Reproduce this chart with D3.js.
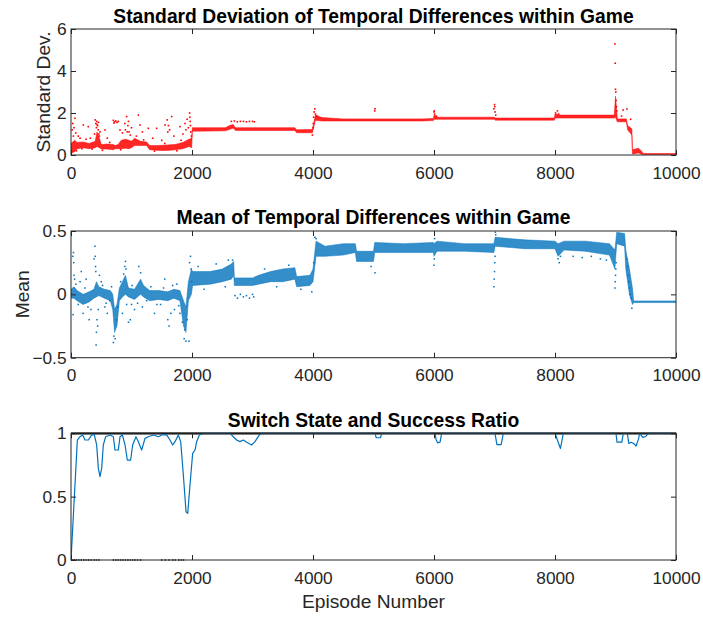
<!DOCTYPE html>
<html>
<head>
<meta charset="utf-8">
<script src="https://cdn.jsdelivr.net/npm/d3@7"></script>
<style>
  html, body { margin: 0; padding: 0; background: #fff; }
  svg { display: block; }
  text { font-family: "Liberation Sans", Arial, Helvetica, sans-serif; }
</style>
</head>
<body>
<svg id="chart" width="703" height="617"></svg>
<script>
// ---- tick values ----
const xTicks = [0, 2000, 4000, 6000, 8000, 10000];
const stdTicks = [0, 2, 4, 6];
const meanTicks = [-0.5, 0, 0.5];
const ratioTicks = [0, 0.5, 1];

// ---- std. dev. of temporal differences: dense band [episode, low, high] ----
const stdBand = [
  [0,0.10,0.55],[60,0.15,0.70],[100,0.30,0.60],[200,0.35,0.62],[300,0.30,0.55],
  [400,0.35,0.65],[430,0.40,1.10],[470,0.35,0.80],[500,0.28,0.50],[600,0.28,0.52],
  [700,0.25,0.50],[730,0.30,0.45],[780,0.30,0.50],[830,0.30,0.70],[900,0.32,0.75],
  [960,0.30,0.70],[1000,0.35,0.65],[1050,0.45,0.80],[1150,0.45,0.65],[1250,0.45,0.62],
  [1300,0.25,0.45],[1450,0.22,0.45],[1600,0.22,0.48],[1720,0.25,0.50],[1850,0.30,0.60],
  [1950,0.40,0.75],[1995,0.35,0.80],[2005,1.13,1.30],[2550,1.15,1.30],[2620,1.22,1.40],
  [2680,1.28,1.45],[2720,1.17,1.30],[3700,1.17,1.30],[3730,1.06,1.20],[3990,1.06,1.22],
  [4040,1.65,1.90],[4150,1.62,1.78],[4500,1.62,1.72],[5000,1.62,1.72],[5800,1.62,1.72],
  [5990,1.64,1.74],[6000,1.70,1.90],[6060,1.70,1.80],[7000,1.70,1.80],[7010,1.66,1.76],
  [7990,1.66,1.76],[8000,1.76,1.95],[8080,1.76,1.90],[8980,1.76,1.90],[9000,1.80,2.80],
  [9030,1.58,1.72],[9180,1.58,1.72],[9200,1.20,1.40],[9270,0.95,1.25],[9280,0.05,0.25],
  [9380,0.10,0.32],[9420,0.05,0.22],[9460,0.02,0.07],[10000,0.02,0.07]
];
// scattered std. dev. samples [episode, value]
const stdDots = [
  [20,1.2],[30,1.5],[40,0.9],[50,1.3],[66,1.75],[80,1.05],[120,0.9],[150,0.8],[204,1.43],
  [250,0.75],[286,1.35],[320,0.8],[390,1.0],[400,1.67],[410,1.5],[420,1.3],[425,1.6],
  [430,1.45],[440,1.4],[450,1.2],[455,1.55],[460,1.0],[470,0.9],[480,1.1],[562,1.19],
  [600,0.8],[700,1.65],[710,1.52],[720,1.58],[740,1.62],[760,1.55],[782,1.6],[810,1.19],
  [850,1.05],[890,1.5],[900,1.2],[920,1.83],[930,1.1],[940,1.4],[950,1.6],[960,1.1],
  [980,0.95],[1000,1.3],[1113,1.9],[1140,1.43],[1180,1.1],[1278,1.27],[1350,0.8],
  [1416,1.27],[1500,0.7],[1554,1.43],[1590,1.67],[1600,1.1],[1610,1.4],[1630,1.2],
  [1664,1.83],[1700,0.9],[1802,1.35],[1850,1.0],[1885,1.5],[1900,1.2],[1920,1.7],
  [1940,1.3],[1960,2.0],[1965,1.8],[1970,1.6],[1975,1.4],[1980,1.1],[1990,0.9],
  [10,0.15],[90,0.2],[180,0.3],[350,0.28],[520,0.22],[640,0.6],[820,0.25],[1080,0.9],
  [1200,0.72],[1380,0.18],[1550,0.55],[1750,0.2],[1820,0.7],
  [2650,1.6],[2700,1.62],[2750,1.58],[2800,1.6],[2850,1.6],[2900,1.58],[2950,1.6],
  [3000,1.6],[3030,1.58],
  [3990,0.95],[4000,1.3],[4005,1.5],[4010,1.8],[4020,2.05],[4030,2.2],[4040,1.95],
  [4060,1.85],[5020,2.1],[5025,2.2],[6000,2.05],[6005,2.1],[6010,1.95],[6040,1.85],
  [6990,2.2],[7000,2.4],[7005,2.3],[7010,2.05],[7020,1.9],[8010,2.0],[8040,2.1],[8060,1.95],
  [8990,5.29],[8995,4.37],[9000,3.13],[9005,3.0],[9010,2.6],[9015,2.3],[9020,2.1],
  [9100,1.85],[9125,2.14],[9190,2.19],[9250,1.7]
];

// ---- mean of temporal differences: dense band [episode, low, high] ----
const meanBand = [
  [0,-0.03,0.04],[50,-0.03,0.06],[100,-0.05,0.03],[200,-0.08,0.00],[300,-0.06,0.02],
  [380,-0.03,0.04],[420,-0.02,0.10],[460,-0.01,0.06],[550,-0.03,0.04],[650,-0.05,0.03],
  [690,-0.12,0.00],[720,-0.30,-0.12],[760,-0.25,-0.08],[800,-0.05,0.05],[850,-0.02,0.10],
  [900,0.00,0.15],[950,-0.02,0.05],[1050,-0.04,0.04],[1150,0.00,0.12],[1200,-0.02,0.07],
  [1300,-0.05,0.03],[1450,-0.04,0.03],[1600,-0.05,0.02],[1700,-0.03,0.04],[1800,-0.05,0.03],
  [1860,-0.25,-0.05],[1900,-0.30,-0.10],[1940,-0.05,0.10],[1990,0.00,0.20],[2010,0.07,0.18],
  [2300,0.08,0.18],[2500,0.10,0.20],[2650,0.12,0.24],[2690,0.15,0.26],[2700,0.07,0.13],
  [3000,0.07,0.13],[3100,0.08,0.15],[3300,0.10,0.18],[3500,0.10,0.20],[3700,0.12,0.21],
  [3730,0.06,0.14],[3950,0.07,0.15],[4000,0.10,0.20],[4050,0.30,0.42],[4200,0.30,0.38],
  [4500,0.31,0.40],[4700,0.33,0.40],[4720,0.26,0.34],[5000,0.26,0.34],[5020,0.33,0.41],
  [5500,0.33,0.40],[5990,0.33,0.41],[6000,0.30,0.40],[6050,0.34,0.42],[6500,0.34,0.40],
  [6990,0.33,0.40],[7010,0.38,0.45],[7500,0.36,0.43],[8000,0.36,0.42],[8050,0.30,0.40],
  [8150,0.35,0.42],[8500,0.34,0.42],[8900,0.31,0.40],[8990,0.20,0.35],[9020,0.40,0.49],
  [9150,0.38,0.48],[9170,0.20,0.35],[9230,0.00,0.20],[9280,-0.08,0.05],[9300,-0.065,-0.052],
  [10000,-0.065,-0.052]
];
// scattered mean samples [episode, value]
const meanDots = [
  [30,0.3],[40,0.33],[45,0.25],[50,0.15],[35,-0.16],[60,0.12],[150,0.1],[170,0.18],
  [200,-0.15],[250,0.12],[300,-0.2],[330,-0.12],[380,0.28],[395,0.38],[400,0.3],[405,0.22],
  [410,0.18],[415,-0.4],[420,-0.3],[430,-0.2],[440,-0.25],[450,-0.12],[470,0.15],[500,0.1],
  [560,-0.1],[600,-0.15],[640,-0.05],[700,-0.38],[710,-0.33],[730,-0.35],[750,-0.2],
  [780,-0.1],[820,0.1],[850,-0.15],[870,0.16],[890,0.22],[900,0.26],[910,0.2],[920,-0.08],
  [950,-0.22],[980,-0.2],[1000,-0.08],[1050,-0.12],[1120,0.22],[1150,0.17],[1180,-0.1],
  [1250,-0.05],[1380,-0.15],[1480,-0.08],[1550,0.12],[1600,-0.2],[1620,-0.25],[1650,-0.15],
  [1680,0.07],[1710,-0.12],[1800,-0.15],[1840,-0.22],[1870,-0.35],[1880,-0.28],[1900,-0.37],
  [1920,-0.2],[1950,-0.37],[1960,0.25],[1975,0.3],[1985,0.2],[1995,0.1],
  [80,0.08],[120,-0.08],[230,0.05],[280,-0.1],[520,0.07],[580,-0.07],[670,0.06],
  [1010,0.07],[1100,-0.07],[1320,0.06],[1420,-0.08],[1530,0.05],[1750,0.08],[1780,-0.09],
  [2100,0.22],[2200,0.04],[2400,0.24],[2550,0.06],[2600,0.27],[2670,0.27],
  [2710,-0.01],[2750,-0.03],[2800,0.0],[2850,-0.02],[2900,-0.01],[2950,-0.03],[3000,0.0],
  [3020,-0.02],[3200,0.2],[3400,0.06],[3600,0.23],[3800,0.04],
  [3980,0.02],[4010,0.25],[4030,0.45],[4050,0.44],[4960,0.22],[5025,0.17],
  [6000,0.23],[6005,0.28],[6010,0.44],[6990,0.06],[6995,0.12],[7000,0.18],[7005,0.25],
  [7010,0.3],[7015,0.49],[7020,0.47],[8050,0.28],[8070,0.25],[8090,0.3],[8300,0.3],
  [8450,0.29],[8600,0.3],[8750,0.28],[8850,0.27],[8990,0.05],[8995,0.1],[9000,0.15],
  [9005,0.2],[9010,0.25],[9190,0.28],[9200,0.22],[9210,0.15],[9220,0.1],[9230,0.05],
  [9240,0.0],[9260,-0.03],[9270,-0.11]
];

// ---- success ratio [episode, ratio] ----
const successRatio = [
  [0,0],[105,0.947],[149,0.973],[193,0.987],[231,0.947],[287,0.947],[342,0.987],[386,0.987],
  [424,0.908],[452,0.723],[479,0.658],[507,0.723],[534,0.908],[573,0.973],[645,0.987],
  [700,0.973],[727,0.868],[782,0.868],[810,0.973],[849,0.987],[893,0.908],[931,0.789],
  [986,0.789],[1019,0.908],[1074,0.973],[1113,0.934],[1168,0.868],[1223,0.960],[1278,0.973],
  [1361,0.987],[1444,0.973],[1499,0.987],[1581,0.987],[1636,0.947],[1680,0.908],[1719,0.934],
  [1774,0.987],[1813,0.934],[1857,0.671],[1901,0.381],[1929,0.368],[1967,0.592],[2011,0.842],
  [2050,0.868],[2077,0.934],[2122,0.987],[2188,1],[2628,1],[2683,0.973],[2738,0.947],
  [2793,0.934],[2848,0.947],[2903,0.929],[2986,0.908],[3041,0.934],[3113,0.987],[3152,1],
  [5025,1],[5045,0.965],[5115,0.965],[5135,1],[6017,1],[6035,0.95],[6060,0.925],[6100,0.93],
  [6127,1],[7008,1],[7040,0.91],[7110,0.91],[7146,1],[8000,1],[8090,0.88],[8137,1],
  [9008,1],[9025,0.93],[9105,0.93],[9129,1],[9195,1],[9220,0.92],[9260,0.93],[9300,0.92],
  [9340,0.9],[9377,0.95],[9400,1],[9450,0.968],[9500,0.975],[9543,1],[10000,1]
];
// switch state: episodes spent in the "off" state, and the span held "on"
const switchOff = [0,30,60,90,130,170,210,250,290,330,380,420,460,700,740,780,820,860,900,
  940,980,1020,1060,1100,1150,1500,1560,1620,1680,1720,1780,1820,1860];
const switchOn = [[0, 10000]];

// ---- layout ----
const svg = d3.select("#chart");
const AXC = "#262626";
const RED = "#ff0000";
const BLUE = "#0072bd";
const left = 71, right = 676;
const x = d3.scaleLinear().domain([0, 10000]).range([left, right]);

const panels = [
  { top: 29,    bottom: 155,   domain: [0, 6],      ticks: stdTicks,
    title: "Standard Deviation of Temporal Differences within Game", titleY: 22.7,
    ylabel: "Standard Dev.", ylabelX: 50 },
  { top: 231,   bottom: 357.7, domain: [-0.5, 0.5], ticks: meanTicks,
    title: "Mean of Temporal Differences within Game", titleY: 224,
    ylabel: "Mean", ylabelX: 28.5 },
  { top: 433.3, bottom: 560,   domain: [0, 1],      ticks: ratioTicks,
    title: "Switch State and Success Ratio", titleY: 427.3,
    ylabel: null }
];

panels.forEach((p, i) => {
  p.y = d3.scaleLinear().domain(p.domain).range([p.bottom, p.top]);
  p.g = svg.append("g");
  p.clipId = "clip" + i;
  svg.append("clipPath").attr("id", p.clipId)
    .append("rect").attr("x", left).attr("y", p.top - 1)
    .attr("width", right - left).attr("height", p.bottom - p.top + 2);
  p.data = p.g.append("g").attr("clip-path", `url(#${p.clipId})`);
});

function drawBand(p, band, color, opacity) {
  const area = d3.area()
    .x(d => x(d[0])).y0(d => p.y(d[1])).y1(d => p.y(d[2]));
  p.data.append("path").datum(band)
    .attr("d", area).attr("fill", color).attr("fill-opacity", opacity)
    .attr("stroke", color).attr("stroke-width", 0.6).attr("stroke-opacity", opacity);
}
function drawDots(p, dots, color, s) {
  p.data.append("g").selectAll("rect").data(dots).join("rect")
    .attr("x", d => x(d[0]) - s / 2).attr("y", d => p.y(d[1]) - s / 2)
    .attr("width", s).attr("height", s).attr("fill", color);
}

// panel 1: std. dev.
drawBand(panels[0], stdBand, RED, 0.85);
drawDots(panels[0], stdDots, RED, 1.6);

// panel 2: mean
drawBand(panels[1], meanBand, BLUE, 0.8);
drawDots(panels[1], meanDots, BLUE, 1.5);

// panel 3: switch state (black) and success ratio (blue)
const p3 = panels[2];
p3.data.append("g").selectAll("line").data(switchOn).join("line")
  .attr("x1", d => x(d[0])).attr("x2", d => x(d[1]))
  .attr("y1", p3.y(1)).attr("y2", p3.y(1))
  .attr("stroke", "#000").attr("stroke-width", 2.2);
drawDots(p3, switchOff.map(e => [e, 0]), "#000", 1.4);
p3.data.append("path").datum(successRatio)
  .attr("d", d3.line().x(d => x(d[0])).y(d => p3.y(d[1])))
  .attr("fill", "none").attr("stroke", BLUE).attr("stroke-width", 1.2)
  .attr("stroke-linejoin", "round");

// axes, box, titles
panels.forEach(p => {
  const g = p.g;
  const fmt = d => d3.format("")(d);
  const bottomAxis = d3.axisBottom(x).tickValues(xTicks).tickFormat(d3.format("d"))
    .tickSizeInner(-5).tickSizeOuter(0).tickPadding(11.3);
  const topAxis = d3.axisTop(x).tickValues(xTicks).tickFormat("")
    .tickSizeInner(-5).tickSizeOuter(0);
  const leftAxis = d3.axisLeft(p.y).tickValues(p.ticks).tickFormat(fmt)
    .tickSizeInner(-5).tickSizeOuter(0).tickPadding(4.5);
  const rightAxis = d3.axisRight(p.y).tickValues(p.ticks).tickFormat("")
    .tickSizeInner(-5).tickSizeOuter(0);

  const ax = [
    g.append("g").attr("transform", `translate(0,${p.bottom})`).call(bottomAxis),
    g.append("g").attr("transform", `translate(0,${p.top})`).call(topAxis),
    g.append("g").attr("transform", `translate(${left},0)`).call(leftAxis),
    g.append("g").attr("transform", `translate(${right},0)`).call(rightAxis)
  ];
  ax.forEach(a => {
    a.select(".domain").remove();
    a.selectAll("line").attr("stroke", AXC).attr("stroke-width", 1);
    a.selectAll("text").attr("fill", AXC).style("font-size", "17.3px");
  });

  g.append("rect")
    .attr("x", left).attr("y", p.top)
    .attr("width", right - left).attr("height", p.bottom - p.top)
    .attr("fill", "none").attr("stroke", AXC).attr("stroke-width", 1);

  g.append("text")
    .attr("x", (left + right) / 2).attr("y", p.titleY)
    .attr("text-anchor", "middle")
    .style("font-size", "19.3px").style("font-weight", "bold")
    .attr("fill", "#000")
    .text(p.title);

  if (p.ylabel) {
    g.append("text")
      .attr("transform", `translate(${p.ylabelX},${(p.top + p.bottom) / 2}) rotate(-90)`)
      .attr("text-anchor", "middle")
      .style("font-size", "19.2px").attr("fill", AXC)
      .text(p.ylabel);
  }
});

svg.append("text")
  .attr("x", (left + right) / 2).attr("y", 608.3)
  .attr("text-anchor", "middle")
  .style("font-size", "19.2px").attr("fill", AXC)
  .text("Episode Number");
</script>
</body>
</html>
